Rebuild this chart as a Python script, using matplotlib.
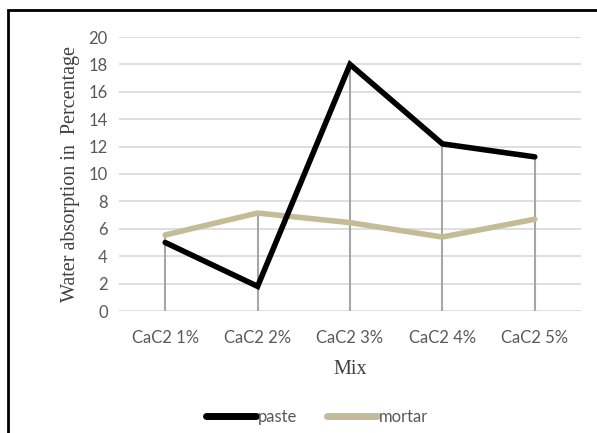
import matplotlib.pyplot as plt
from matplotlib.patches import Rectangle

# water absorption per mix
mixes = ['CaC2 1%', 'CaC2 2%', 'CaC2 3%', 'CaC2 4%', 'CaC2 5%']
paste = [5.0, 1.8, 18.0, 12.2, 11.25]
mortar = [5.55, 7.15, 6.45, 5.4, 6.7]

W, H = 597, 433
fig = plt.figure(figsize=(W / 100, H / 100), dpi=100)
ax = fig.add_axes([119 / W, 1 - 311 / H, 462 / W, 274 / H])

x = list(range(len(mixes)))

# drop lines from the higher series down to zero
tops = [max(p, m) for p, m in zip(paste, mortar)]
ax.vlines(x, 0, tops, color='#a6a6a6', lw=1.5, zorder=2)

ax.plot(x, paste, color='black', lw=4, solid_capstyle='round', solid_joinstyle='miter', zorder=4, label='paste')
ax.plot(x, mortar, color='#c4bc96', lw=4, solid_capstyle='round', zorder=3, label='mortar')

ax.set_xlim(-0.5, len(mixes) - 0.5)
ax.set_ylim(0, 20)
ax.set_yticks(range(0, 21, 2))
ax.set_xticks(x)
ax.set_xticklabels(mixes)
ax.yaxis.grid(True, color='#d9d9d9', lw=1.2)
ax.set_axisbelow(True)
for s in ax.spines.values():
    s.set_visible(False)
ax.tick_params(length=0, labelsize=12, labelcolor='#595959', pad=8)
for lab in ax.get_xticklabels() + ax.get_yticklabels():
    lab.set_family('Lato')
ax.tick_params(axis='x', pad=14)

ax.set_xlabel('Mix', family='Liberation Serif', fontsize=14.5, color='#404040', labelpad=10)
ax.set_ylabel('Water absorption in  Percentage', family='Liberation Serif', fontsize=14.5, color='#404040', labelpad=6)

leg = fig.legend(loc='center', bbox_to_anchor=(0.531, 1 - 417 / H), ncol=2, frameon=False,
                 handlelength=3.0, handletextpad=0.1, columnspacing=1.8,
                 prop={'family': 'Lato', 'size': 12})
for t in leg.get_texts():
    t.set_color('#595959')
for ln in leg.get_lines():
    ln.set_linewidth(5)

# outer frame
fig.patches.append(Rectangle((8 / W, -0.1), 1.2, 1 - 10 / H + 0.1, transform=fig.transFigure,
                             fill=False, edgecolor='black', lw=2))

fig.savefig('out.png', dpi=100)
